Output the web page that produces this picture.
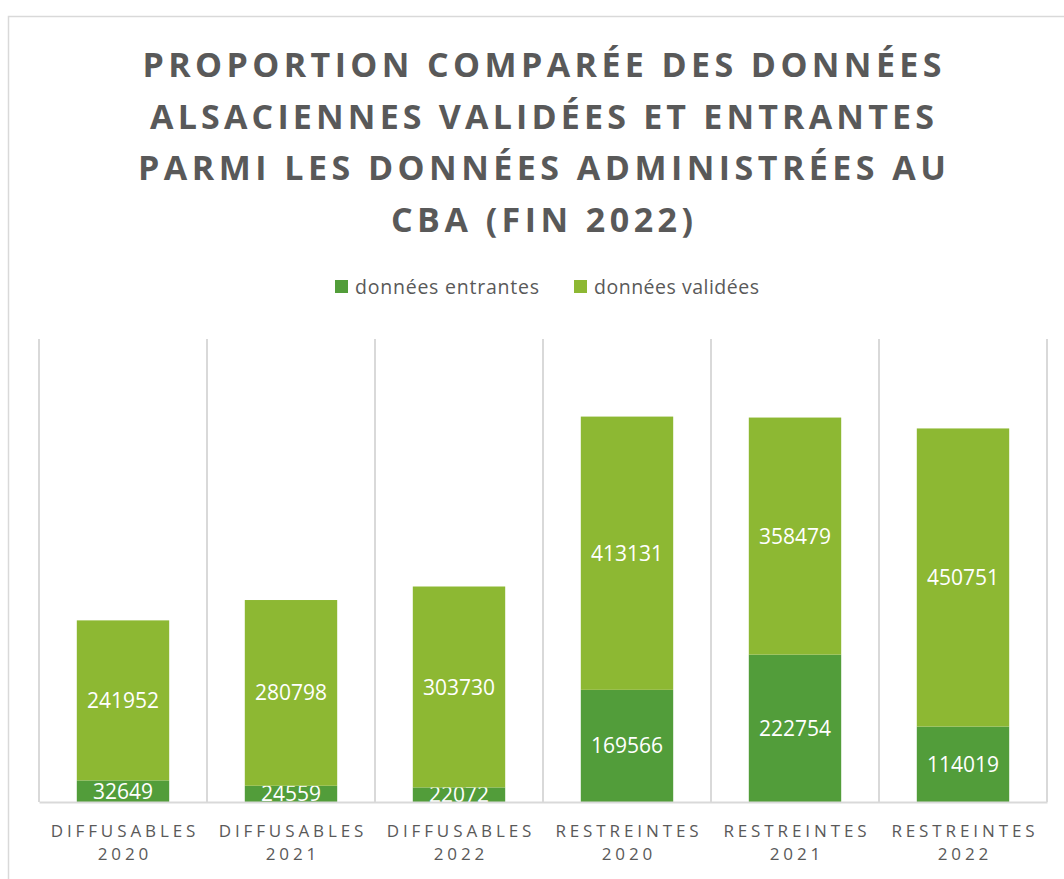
<!DOCTYPE html>
<html>
<head>
<meta charset="utf-8">
<script src="https://cdn.jsdelivr.net/npm/d3@7"></script>
<style>
  body { margin: 0; background: #fff; }
  svg { display: block; font-family: 'Open Sans', sans-serif; }
</style>
</head>
<body>
<div id="chart"></div>
<script>
// data
var groups = ['DIFFUSABLES', 'DIFFUSABLES', 'DIFFUSABLES', 'RESTREINTES', 'RESTREINTES', 'RESTREINTES']
var years = ['2020', '2021', '2022', '2020', '2021', '2022']
var entrantes = [32649, 24559, 22072, 169566, 222754, 114019]
var validees = [241952, 280798, 303730, 413131, 358479, 450751]
var seriesNames = ['données entrantes', 'données validées']
var titleLines = [
  'PROPORTION COMPARÉE DES DONNÉES',
  'ALSACIENNES VALIDÉES ET ENTRANTES',
  'PARMI LES DONNÉES ADMINISTRÉES AU',
  'CBA (FIN 2022)'
]
var titleWidths = [799, 784, 808, 302]
var legendWidths = [184, 165]

var colors = ['#529d3a', '#8db833']
var grey = '#595959'
var lineGrey = '#d9d9d9'

var width = 1064
var height = 879
var margin = { top: 339, left: 39, right: 17, bottom: 77 }

var svg = d3
  .select('#chart')
  .append('svg')
  .attr('width', width)
  .attr('height', height)

// outer frame (only top/left visible)
svg
  .append('rect')
  .attr('x', 8.5)
  .attr('y', 16.5)
  .attr('width', 1070)
  .attr('height', 900)
  .attr('fill', 'none')
  .attr('stroke', lineGrey)
  .attr('stroke-width', 1.5)

// title
svg
  .selectAll('.title')
  .data(titleLines)
  .enter()
  .append('text')
  .attr('class', 'title')
  .attr('x', 542)
  .attr('y', (d, i) => 77 + i * 51.7)
  .attr('text-anchor', 'middle')
  .attr('font-size', 34)
  .attr('font-weight', 'bold')
  .attr('fill', grey)
  .attr('textLength', (d, i) => titleWidths[i])
  .attr('lengthAdjust', 'spacing')
  .text(d => d)

// legend
var legendX = [335, 574]
var legend = svg
  .selectAll('.legend')
  .data(seriesNames)
  .enter()
  .append('g')
  .attr('class', 'legend')
  .attr('transform', (d, i) => 'translate(' + legendX[i] + ',280)')

legend
  .append('rect')
  .attr('width', 13)
  .attr('height', 13)
  .attr('fill', (d, i) => colors[i])

legend
  .append('text')
  .attr('x', 20)
  .attr('y', 14)
  .attr('font-size', 19.5)
  .attr('fill', grey)
  .attr('textLength', (d, i) => legendWidths[i])
  .attr('lengthAdjust', 'spacing')
  .text(d => d)

// scales
var cats = groups.map((g, i) => g + ' ' + years[i])

var xPositionScale = d3
  .scaleBand()
  .domain(cats)
  .range([margin.left, width - margin.right])
  .paddingInner(0.45)
  .paddingOuter(0.225)

var yPositionScale = d3
  .scaleLinear()
  .domain([0, 700000])
  .range([height - margin.bottom, margin.top])

var step = xPositionScale.step()

// vertical gridlines between categories
var bounds = cats.map(c => xPositionScale(c) - step * 0.225)
bounds.push(bounds[bounds.length - 1] + step)

svg
  .selectAll('.grid')
  .data(bounds)
  .enter()
  .append('line')
  .attr('class', 'grid')
  .attr('x1', d => d)
  .attr('x2', d => d)
  .attr('y1', margin.top)
  .attr('y2', height - margin.bottom)
  .attr('stroke', lineGrey)
  .attr('stroke-width', 2)

// clip labels to the plot area
svg
  .append('clipPath')
  .attr('id', 'plot-clip')
  .append('rect')
  .attr('x', 0)
  .attr('y', 0)
  .attr('width', width)
  .attr('height', height - margin.bottom)

var stackData = cats.map((c, i) => ({ cat: c, entrantes: entrantes[i], validees: validees[i] }))
var stacked = d3.stack().keys(['entrantes', 'validees'])(stackData)

var plot = svg.append('g').attr('clip-path', 'url(#plot-clip)')

// each series: bars then labels, so the next series covers overflowing labels
stacked.forEach(function(series, si) {
  plot
    .append('g')
    .selectAll('rect')
    .data(series)
    .enter()
    .append('rect')
    .attr('x', d => xPositionScale(d.data.cat))
    .attr('width', xPositionScale.bandwidth())
    .attr('y', d => yPositionScale(d[1]))
    .attr('height', d => yPositionScale(d[0]) - yPositionScale(d[1]))
    .attr('fill', colors[si])

  plot
    .append('g')
    .selectAll('text')
    .data(series)
    .enter()
    .append('text')
    .attr('x', d => xPositionScale(d.data.cat) + xPositionScale.bandwidth() / 2)
    .attr('y', d => (yPositionScale(d[0]) + yPositionScale(d[1])) / 2)
    .attr('dy', '0.36em')
    .attr('text-anchor', 'middle')
    .attr('font-size', 21)
    .attr('fill', '#fff')
    .text(d => d[1] - d[0])
})

// x axis
var xAxis = d3
  .axisBottom(xPositionScale)
  .tickSize(0)
  .tickSizeOuter(0)

var xg = svg
  .append('g')
  .attr('class', 'axis x-axis')
  .attr('transform', 'translate(0,' + (height - margin.bottom) + ')')
  .call(xAxis)

xg.select('.domain').attr('stroke', lineGrey).attr('stroke-width', 2)

xg.selectAll('.tick text').each(function(d) {
  var parts = d.split(' ')
  var t = d3
    .select(this)
    .text(null)
    .attr('y', 0)
    .attr('dy', null)
    .attr('fill', grey)
    .attr('font-size', 17)
    .attr('font-family', "'Open Sans', sans-serif")
    .attr('letter-spacing', 3.9)
  parts.forEach(function(p, i) {
    t.append('tspan')
      .attr('x', 1.95)
      .attr('y', i === 0 ? 35 : 58)
      .text(p)
  })
})
</script>
</body>
</html>
